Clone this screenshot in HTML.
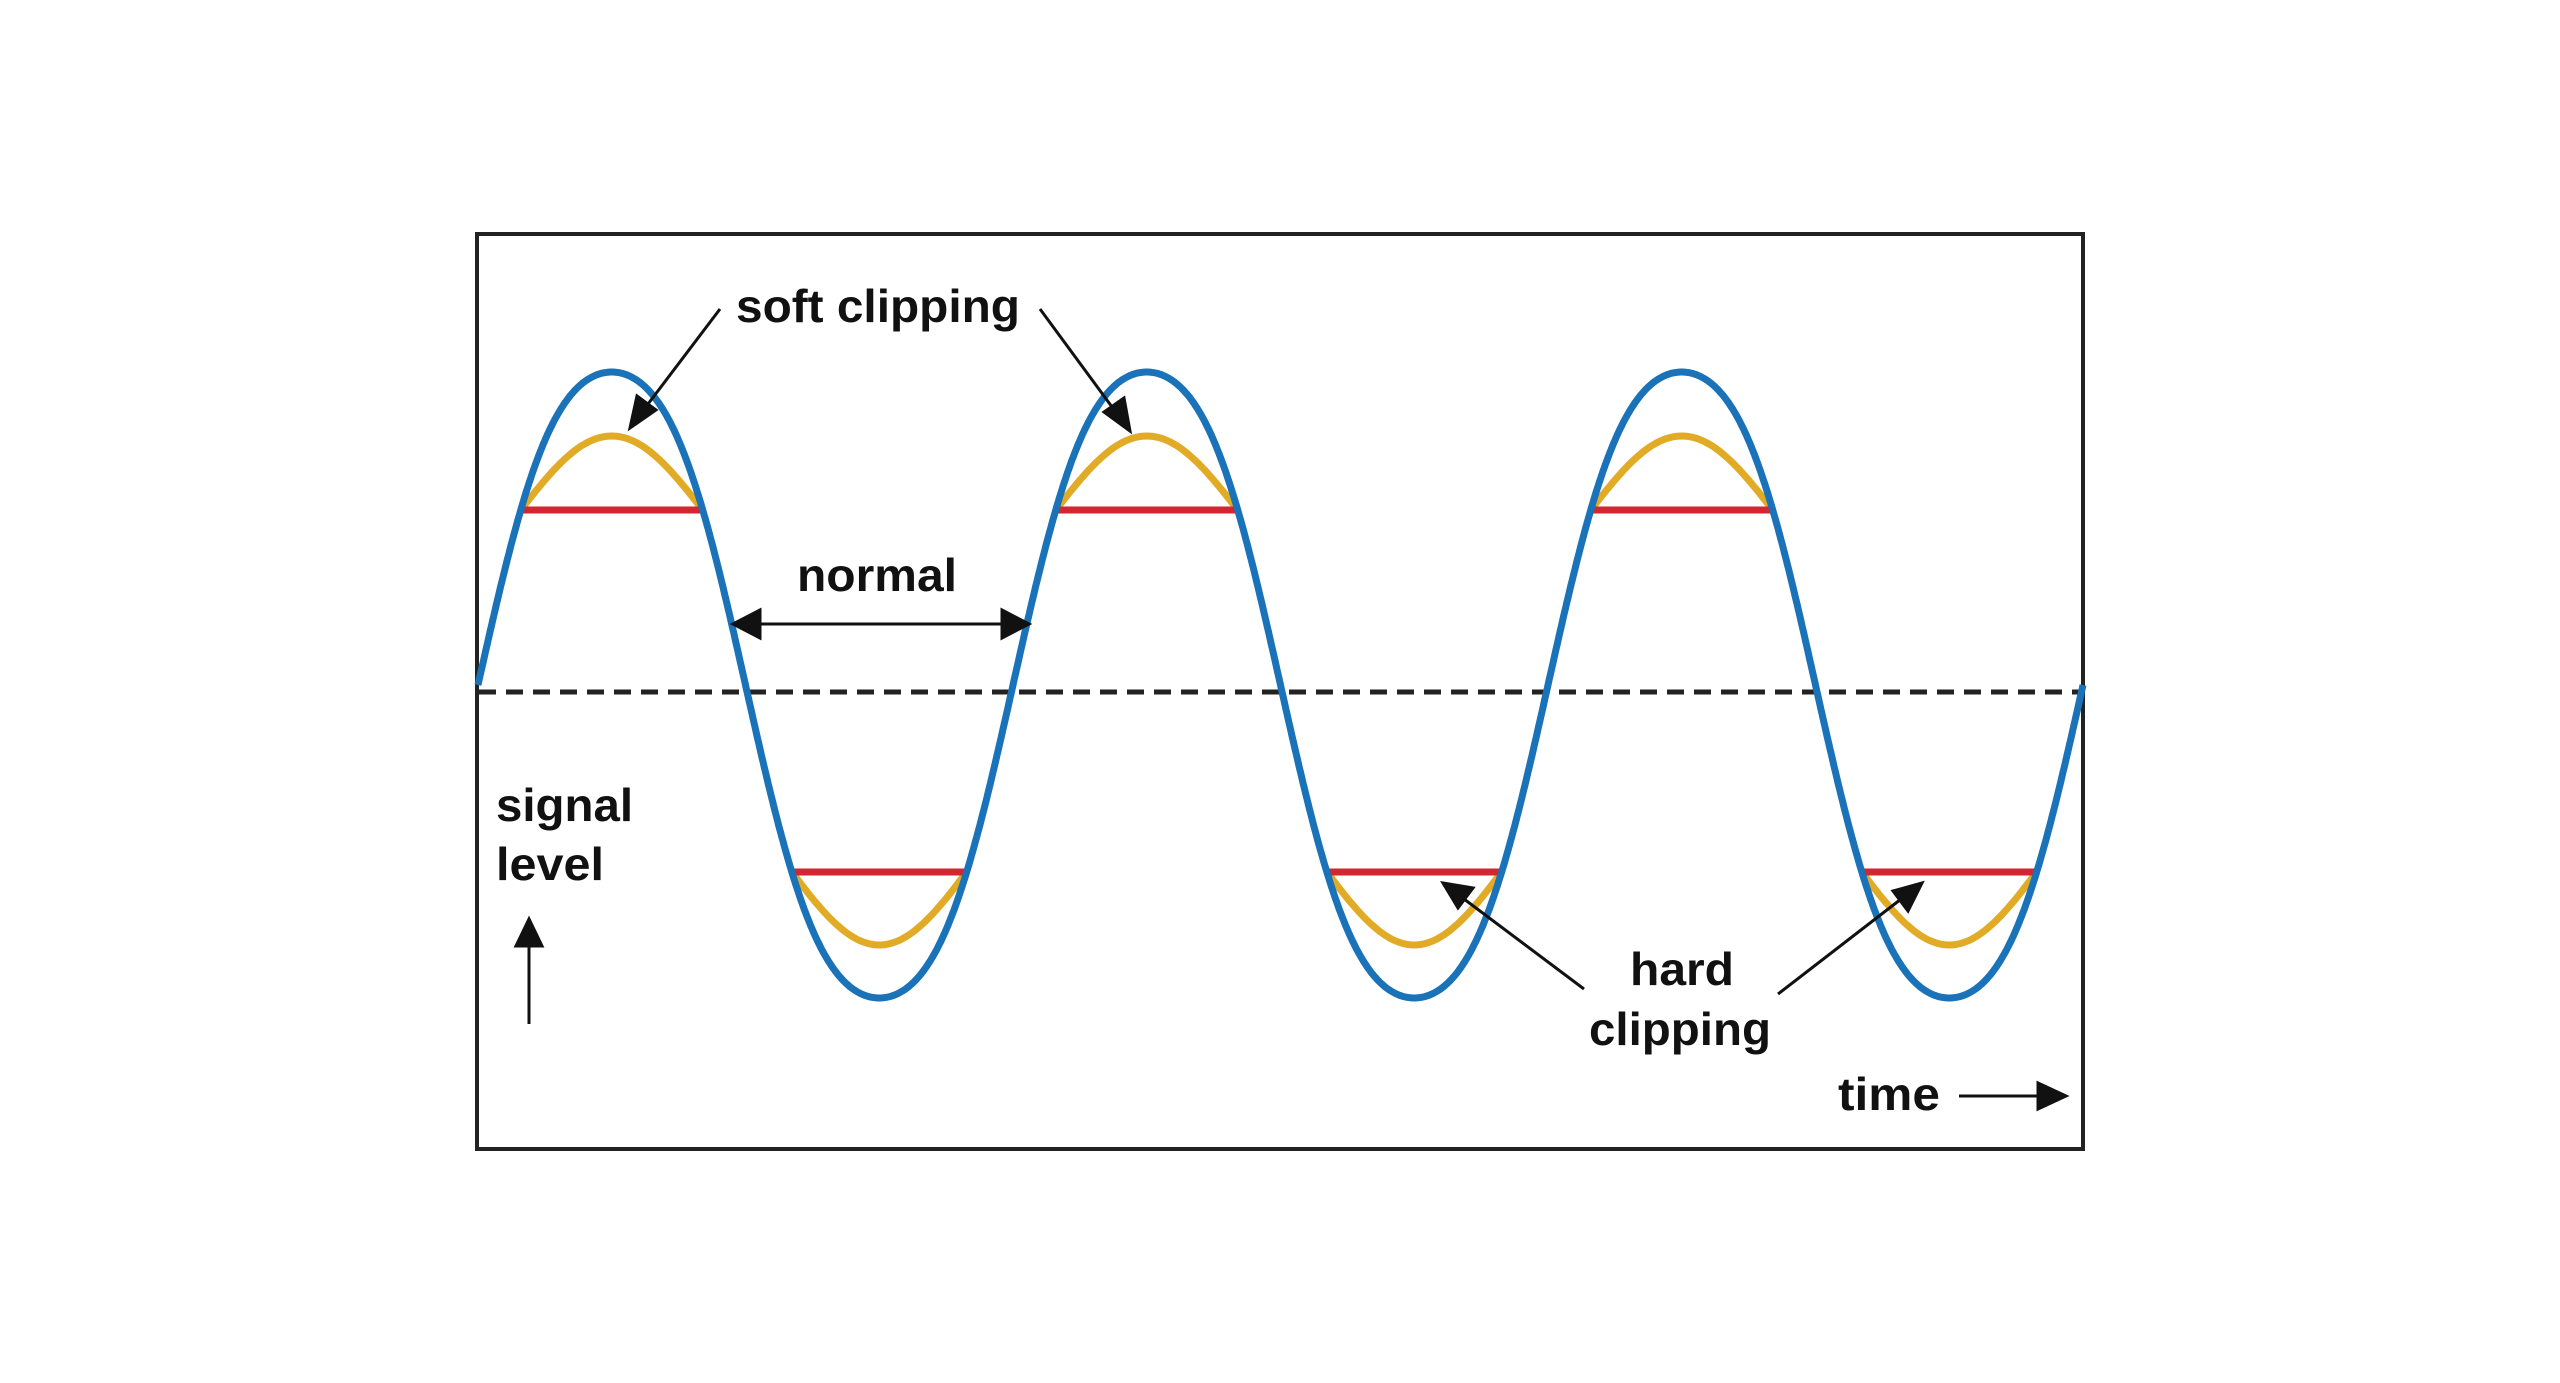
<!DOCTYPE html>
<html><head><meta charset="utf-8">
<style>
html,body{margin:0;padding:0;background:#fff;}
svg{display:block;}
text{font-family:"Liberation Sans","DejaVu Sans",sans-serif;font-weight:bold;fill:#111;}
</style></head>
<body>
<svg id="s" width="2560" height="1383" viewBox="0 0 2560 1383" xmlns="http://www.w3.org/2000/svg">
<rect x="0" y="0" width="2560" height="1383" fill="#fff"/>
<rect x="477" y="234" width="1606" height="915" fill="none" stroke="#222" stroke-width="4"/>
<line x1="479" y1="692" x2="2081" y2="692" stroke="#222" stroke-width="5" stroke-dasharray="17 10"/>
<g id="curves"></g>
<text x="736" y="322" font-size="46" textLength="284" lengthAdjust="spacingAndGlyphs">soft clipping</text>
<text x="797" y="591" font-size="46" textLength="160" lengthAdjust="spacingAndGlyphs">normal</text>
<text x="496" y="821" font-size="46" textLength="137" lengthAdjust="spacingAndGlyphs">signal</text>
<text x="496" y="880" font-size="46" textLength="108" lengthAdjust="spacingAndGlyphs">level</text>
<text x="1630" y="985" font-size="46" textLength="104" lengthAdjust="spacingAndGlyphs">hard</text>
<text x="1589" y="1045" font-size="46" textLength="182" lengthAdjust="spacingAndGlyphs">clipping</text>
<text x="1838" y="1110" font-size="46" textLength="102" lengthAdjust="spacingAndGlyphs">time</text>
<g stroke="#111" stroke-width="3" fill="#111">
  <line x1="720" y1="309" x2="645" y2="408"/>
  <polygon points="630,428 637,396 656,410"/>
  <line x1="1040" y1="309" x2="1115" y2="411"/>
  <polygon points="1130,431 1104,412 1124,398"/>
  <line x1="755" y1="624" x2="1007" y2="624"/>
  <polygon points="733,624 760,610 760,638"/>
  <polygon points="1029,624 1002,610 1002,638"/>
  <line x1="529" y1="1024" x2="529" y2="940"/>
  <polygon points="529,919 516,946 542,946"/>
  <line x1="1584" y1="989" x2="1460" y2="896"/>
  <polygon points="1443,883 1473,888 1458,908"/>
  <line x1="1778" y1="994" x2="1905" y2="896"/>
  <polygon points="1922,883 1908,911 1893,891"/>
  <line x1="1959" y1="1096" x2="2042" y2="1096"/>
  <polygon points="2066,1096 2038,1083 2038,1109"/>
</g>
</svg>
<script>
(function(){
var x0=478,P=535,cy=685,A=313,b3=0.05;
var ns="http://www.w3.org/2000/svg",g=document.getElementById("curves");
function path(d,col,w){var p=document.createElementNS(ns,"path");p.setAttribute("d",d);p.setAttribute("fill","none");p.setAttribute("stroke",col);p.setAttribute("stroke-width",w);g.appendChild(p);}
function f(t){return (Math.sin(t)+b3*Math.sin(3*t))/(1-b3);}
function solve(r){var lo=0,hi=Math.PI/2;for(var i=0;i<60;i++){var m=(lo+hi)/2;if(f(m)<r)lo=m;else hi=m;}return lo;}
var red="",yel="";
for(var k=0;k<6;k++){
  var up=(k%2==0), base=k*Math.PI;
  var yl=up?510:872, yp=up?436:945;
  var r=Math.abs(yl-cy)/A;
  var t1=solve(r), t2=Math.PI-t1;
  var xa=x0+(base+t1)/(2*Math.PI)*P, xb=x0+(base+t2)/(2*Math.PI)*P;
  red+="M"+xa.toFixed(1)+" "+yl+"L"+xb.toFixed(1)+" "+yl;
  var d="";
  for(var i=0;i<=60;i++){
    var x=xa+(xb-xa)*i/60;
    var y=yl+(yp-yl)*Math.sin(Math.PI*i/60);
    d+=(i?"L":"M")+x.toFixed(1)+" "+y.toFixed(1);
  }
  yel+=d;
}
path(yel,"#e2ab26",7);
path(red,"#d22630",7);
var b="";
for(var i=0;i<=1200;i++){var t=i/1200*6*Math.PI;var x=x0+t/(2*Math.PI)*P;b+=(i?"L":"M")+x.toFixed(1)+" "+(cy-A*f(t)).toFixed(1);}
path(b,"#1a72b8",7);
})();
</script>
</body></html>
